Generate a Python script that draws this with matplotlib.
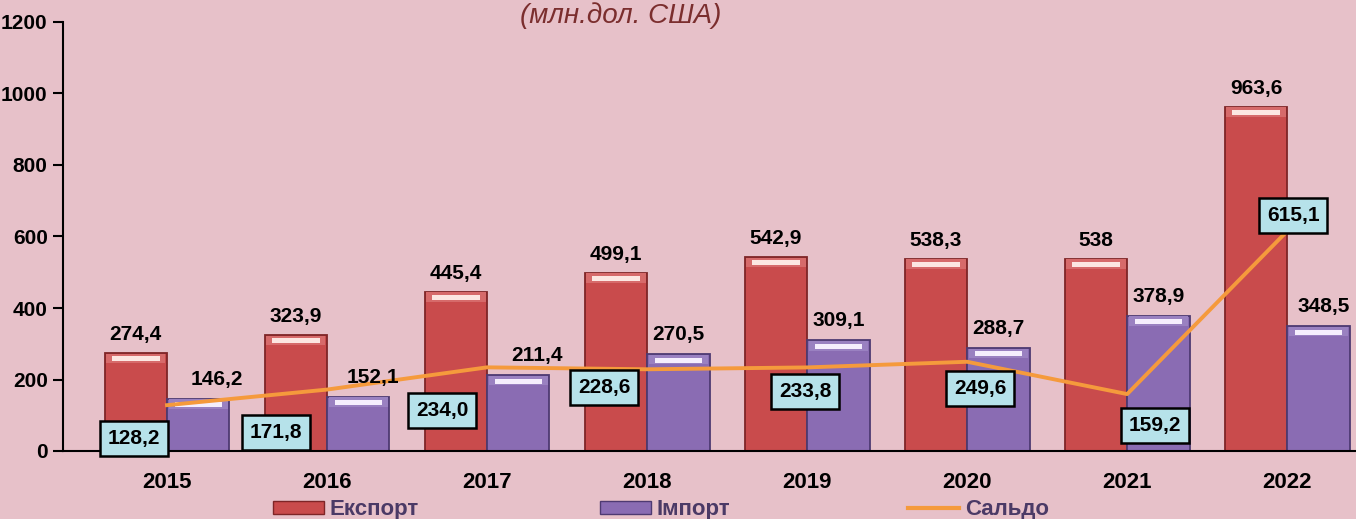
import numpy as np
import matplotlib.pyplot as plt
from matplotlib.lines import Line2D
from matplotlib.patches import Patch

# data
years = ['2015', '2016', '2017', '2018', '2019', '2020', '2021', '2022']
export = [274.4, 323.9, 445.4, 499.1, 542.9, 538.3, 538.0, 963.6]
imports = [146.2, 152.1, 211.4, 270.5, 309.1, 288.7, 378.9, 348.5]
saldo = [128.2, 171.8, 234.0, 228.6, 233.8, 249.6, 159.2, 615.1]
export_labels = ['274,4', '323,9', '445,4', '499,1', '542,9', '538,3', '538', '963,6']
import_labels = ['146,2', '152,1', '211,4', '270,5', '309,1', '288,7', '378,9', '348,5']
saldo_labels = ['128,2', '171,8', '234,0', '228,6', '233,8', '249,6', '159,2', '615,1']

# label placement (pixels)
import_dx = [19, 15, 19, 0, 0, 0, 0, 5]
saldo_offsets = [(-33, -33), (-51, -43), (-45, -43), (-43, -18),
                 (-2, -24), (13, -27), (28, -31), (6, 16)]

bg = '#e7c1c9'
red = '#c94b4c'
red_edge = '#7e2527'
purple = '#8a6cb3'
purple_edge = '#4e3a72'
orange = '#f59a3c'

plt.rcParams['font.family'] = ['Liberation Sans', 'DejaVu Sans']

fig = plt.figure(figsize=(13.56, 5.19), dpi=100, facecolor=bg)
ax = fig.add_axes([63 / 1356, 68 / 519, 1 - 63 / 1356, (451 - 22) / 519])
ax.set_facecolor(bg)

x = np.arange(len(years))
w = 0.39

ax.bar(x - w / 2, export, width=w, color=red, edgecolor=red_edge, linewidth=1.3, zorder=2)
ax.bar(x + w / 2, imports, width=w, color=purple, edgecolor=purple_edge, linewidth=1.3, zorder=2)

# bevel: lighter cap plus a bright highlight band near the top of each bar
ax.bar(x - w / 2, [26] * len(x), bottom=np.array(export) - 28, width=w * 0.95,
       color='#d66a6a', edgecolor='none', zorder=2.5)
ax.bar(x + w / 2, [26] * len(x), bottom=np.array(imports) - 28, width=w * 0.95,
       color='#9a81c1', edgecolor='none', zorder=2.5)
ax.bar(x - w / 2, [14] * len(x), bottom=np.array(export) - 23, width=w * 0.76,
       color='#fce6e1', edgecolor='none', zorder=3)
ax.bar(x + w / 2, [14] * len(x), bottom=np.array(imports) - 23, width=w * 0.76,
       color='#f5eefd', edgecolor='none', zorder=3)

ax.plot(x, saldo, color=orange, linewidth=2.8, zorder=4)

for i in range(len(x)):
    ax.annotate(export_labels[i], (x[i] - w / 2, export[i]), xytext=(0, 9),
                textcoords='offset pixels', ha='center', va='bottom',
                fontsize=15, fontweight='bold', zorder=5)
    ax.annotate(import_labels[i], (x[i] + w / 2, imports[i]), xytext=(import_dx[i], 10),
                textcoords='offset pixels', ha='center', va='bottom',
                fontsize=15, fontweight='bold', zorder=5)
    dx, dy = saldo_offsets[i]
    ax.annotate(saldo_labels[i], (x[i], saldo[i]), xytext=(dx, dy),
                textcoords='offset pixels', ha='center', va='center',
                fontsize=15, fontweight='bold', zorder=6,
                bbox=dict(boxstyle='square,pad=0.38', facecolor='#b6e2ea',
                          edgecolor='black', linewidth=1.8))

ax.set_xlim(-0.65, 7.43)
ax.set_ylim(0, 1200)
ax.set_yticks(range(0, 1201, 200))
ax.set_xticks(x)
ax.set_xticklabels(years)
ax.tick_params(axis='x', length=0, pad=15, labelsize=16)
ax.tick_params(axis='y', length=7, width=1.5, direction='out', labelsize=15, pad=4)
for lbl in ax.get_xticklabels() + ax.get_yticklabels():
    lbl.set_fontweight('bold')
ax.spines['top'].set_visible(False)
ax.spines['right'].set_visible(False)
ax.spines['left'].set_linewidth(1.5)
ax.spines['bottom'].set_linewidth(1.5)

fig.text(0.458, 1 - 23 / 519, '(млн.дол. США)', ha='center', va='baseline',
         fontsize=20, style='italic', color='#7b2e2e')

# legend entries placed one by one, as in the reference
legend_items = [
    (Patch(facecolor=red, edgecolor=red_edge), 'Експорт', 273),
    (Patch(facecolor=purple, edgecolor=purple_edge), 'Імпорт', 600),
    (Line2D([0], [0], color=orange, linewidth=3), 'Сальдо', 908),
]
for handle, label, px in legend_items:
    leg = fig.legend([handle], [label], loc='center left',
                     bbox_to_anchor=(px / 1356, 1 - 510 / 519), frameon=False,
                     borderpad=0, borderaxespad=0, handlelength=2.3, handleheight=0.55,
                     handletextpad=0.25, prop={'size': 16, 'weight': 'bold'})
    for t in leg.get_texts():
        t.set_color('#4b3a66')

fig.savefig('out.png', dpi=100, facecolor=bg)
